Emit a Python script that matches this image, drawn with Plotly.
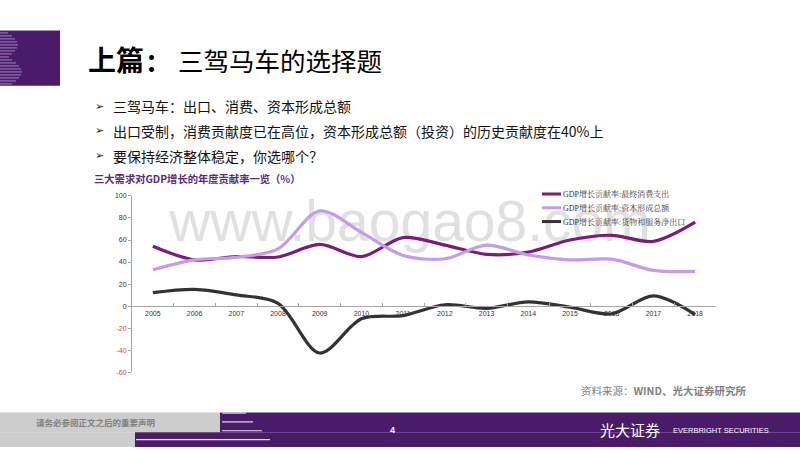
import plotly.graph_objects as go

# ---------------- data ----------------
years = ["2005", "2006", "2007", "2008", "2009", "2010", "2011", "2012",
         "2013", "2014", "2015", "2016", "2017", "2018"]
consumption = [54.4, 42.0, 45.0, 44.6, 56.1, 45.0, 62.2, 55.4, 47.0, 49.0, 60.0, 64.3, 58.8, 76.2]
capital = [33.0, 42.0, 44.3, 52.0, 86.5, 67.0, 46.0, 43.0, 55.3, 46.4, 42.0, 42.6, 32.4, 31.5]
net_exports = [12.2, 15.2, 10.2, 2.5, -42.6, -11.5, -8.6, 1.2, -2.0, 3.9, -1.0, -7.0, 9.2, -7.7]
series_names = ["GDP增长贡献率:最终消费支出", "GDP增长贡献率:资本形成总额", "GDP增长贡献率:货物和服务净出口"]
series_colors = ["#7B1C79", "#C49CEB", "#333333"]
y_ticks = [-60, -40, -20, 0, 20, 40, 60, 80, 100]

W, H = 800, 450
PURPLE = "#4A1B68"
CJK = "Noto Sans CJK SC, Noto Sans, sans-serif"
ARIAL = "Liberation Sans, Arial, sans-serif"


def px(x):
    return x / W


def py(y):
    return 1 - y / H


fig = go.Figure()
for vals, name, col in zip([consumption, capital, net_exports], series_names, series_colors):
    fig.add_trace(go.Scatter(
        x=years, y=vals, name=name, mode="lines",
        line=dict(color=col, width=3.2, shape="spline", smoothing=0.9),
        showlegend=False, hoverinfo="skip"))

ticktext = [("<span style='color:#E0463C'>%d</span>" % v) if v < 0 else str(v) for v in y_ticks]

y0 = 195
y1 = 374
zero_y = y0 + (y1 - y0) * 100 / 160

fig.update_layout(
    width=W, height=H, autosize=False,
    margin=dict(l=0, r=0, t=0, b=0),
    paper_bgcolor="white", plot_bgcolor="rgba(0,0,0,0)",
    xaxis=dict(domain=[px(132), px(716)], type="category", anchor="free",
               range=[-0.5, len(years) - 0.5],
               position=py(zero_y), showline=True, linecolor="#A6A6A6", linewidth=1,
               ticks="inside", ticklen=3, tickcolor="#A6A6A6", tickson="boundaries",
               showgrid=False, zeroline=False,
               tickfont=dict(family=ARIAL, size=7, color="#333333")),
    yaxis=dict(domain=[py(y1), py(y0)], range=[-60, 100], tickvals=y_ticks, ticktext=ticktext,
               showline=True, linecolor="#A6A6A6", linewidth=1, ticks="outside", ticklen=3,
               tickcolor="#A6A6A6", showgrid=False, zeroline=False,
               tickfont=dict(family=ARIAL, size=7, color="#333333")),
)

shapes = []
annotations = []

# watermark (below traces)
shapes.append(dict(type="rect", xref="paper", yref="paper", layer="below",
                   x0=px(180), x1=px(640), y0=py(248), y1=py(182),
                   line=dict(width=0), fillcolor="rgba(0,0,0,0)",
                   label=dict(text="www.baogao8.com", font=dict(family=ARIAL, size=57, color="#E0E0E0"),
                              textposition="middle center")))

# top-left block with stripes
shapes.append(dict(type="rect", xref="paper", yref="paper", x0=px(0), x1=px(60), y0=py(83), y1=py(27),
                   fillcolor=PURPLE, line=dict(width=0)))
stripe_w = [8, 12, 15, 17, 18, 17, 15, 12, 9, 12, 16, 19, 21, 22, 21, 19, 16, 12]
for i, sw in enumerate(stripe_w):
    yy = 28.5 + i * 3.05
    shapes.append(dict(type="rect", xref="paper", yref="paper", x0=px(0), x1=px(sw),
                       y0=py(yy + 1.6), y1=py(yy), fillcolor="#7E5FA0", line=dict(width=0)))

# footer
shapes += [
    dict(type="rect", xref="paper", yref="paper", x0=px(0), x1=px(220), y0=py(435), y1=py(415),
         fillcolor="#CDCDCD", line=dict(width=0)),
    dict(type="rect", xref="paper", yref="paper", x0=px(0), x1=px(135), y0=py(450), y1=py(435),
         fillcolor="#CDCDCD", line=dict(width=0)),
    dict(type="rect", xref="paper", yref="paper", x0=px(220), x1=px(800), y0=py(435), y1=py(415),
         fillcolor=PURPLE, line=dict(width=0)),
    dict(type="rect", xref="paper", yref="paper", x0=px(135), x1=px(800), y0=py(450), y1=py(435),
         fillcolor=PURPLE, line=dict(width=0)),
]
for (xa, xb, yy) in [(222, 246, 415.5), (222, 253, 424.5), (222, 262, 433.5), (136, 270, 442.5)]:
    shapes.append(dict(type="line", xref="paper", yref="paper", x0=px(xa), x1=px(xb), y0=py(yy), y1=py(yy),
                       line=dict(color="#E6DDEE", width=1.2)))

# manual legend
leg_y = [193, 207, 221]
for name, col, ly in zip(series_names, series_colors, leg_y):
    shapes.append(dict(type="line", xref="paper", yref="paper", x0=px(542), x1=px(561), y0=py(ly), y1=py(ly),
                       line=dict(color=col, width=3)))
    annotations.append(dict(text=name, xref="paper", yref="paper", x=px(561), y=py(ly), xanchor="left",
                            yanchor="middle", showarrow=False,
                            font=dict(family="Liberation Serif, Noto Serif CJK SC, " + CJK, size=8, color="#333333")))


def txt(text, x, y, size, color="#000000", family=CJK, xanchor="left"):
    annotations.append(dict(text=text, xref="paper", yref="paper", x=px(x), y=py(y), xanchor=xanchor,
                            yanchor="middle", showarrow=False, font=dict(family=family, size=size, color=color)))


# title
txt("<b>上篇</b>", 86, 56, 28)
txt("<b>：</b>", 143, 57, 26)
txt("三驾马车的选择题", 176, 56, 25.5)

# bullets
bullets = ["三驾马车：出口、消费、资本形成总额",
           "出口受制，消费贡献度已在高位，资本形成总额（投资）的历史贡献度在40%上",
           "要保持经济整体稳定，你选哪个？"]
for i, b in enumerate(bullets):
    yy = 104 + i * 25
    txt("➢", 93, yy, 11, "#222222", "DejaVu Sans")
    txt(b, 111, yy, 14, "#111111")

# chart title
txt("<b>三大需求对GDP增长的年度贡献率一览（%）</b>", 92, 177, 10.3, "#5A2A7C")

# source
txt("资料来源：<b>WIND、光大证券研究所</b>", 579, 393, 10.5, "#7F7F7F")

# footer texts
txt("<b>请务必参阅正文之后的重要声明</b>", 34, 425, 8.5, "#808080")
txt("<b>4</b>", 392, 433, 9, "#FFFFFF", ARIAL, "center")
txt("光大证券", 598, 432, 15, "#FFFFFF")
txt("EVERBRIGHT SECURITIES", 671, 433, 7.5, "#FFFFFF", ARIAL)

fig.update_layout(shapes=shapes, annotations=annotations)
fig.write_html("out.html", config={"displayModeBar": False},
               post_script="document.body.style.margin='0';document.body.style.overflow='hidden';")
